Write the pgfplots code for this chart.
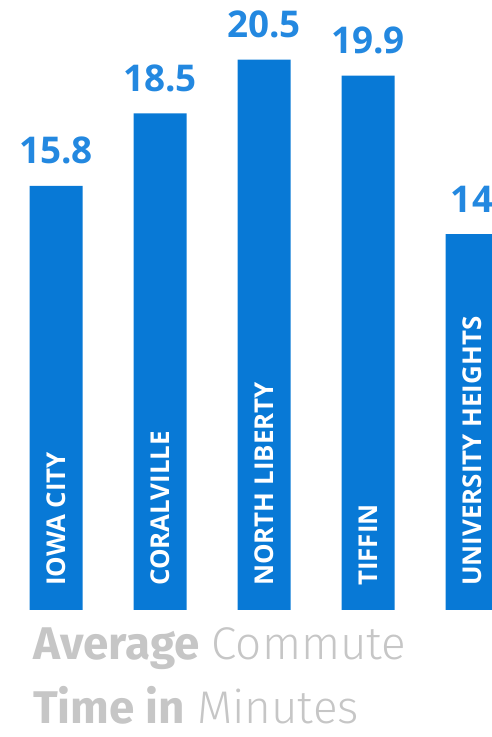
\documentclass[border=0pt]{standalone}
\usepackage{fontspec}
\usepackage{pgfplots}
\pgfplotsset{compat=1.18}
\setmainfont{Open Sans}
\newfontfamily\titlefont{Fira Sans}
\newfontfamily\titlelight{Fira Sans Light}
\definecolor{barblue}{HTML}{0879D6}
\definecolor{valblue}{HTML}{2388E0}
\definecolor{titlegrey}{HTML}{C6C6C6}
\begin{document}
\begin{tikzpicture}
\useasboundingbox (0,0) rectangle (492bp,737bp);
\begin{axis}[
  scale only axis,
  width=492bp, height=610bp,
  at={(0,127bp)}, anchor=south west,
  xmin=-0.5385, xmax=4.1923,
  ymin=0, ymax=22.72,
  axis on top,
  axis line style={draw=none},
  tick style={draw=none},
  ytick=\empty,
  xtick={0,1,2,3,4},
  xticklabels={IOWA CITY, CORALVILLE, NORTH LIBERTY, TIFFIN, UNIVERSITY HEIGHTS},
  xticklabel style={rotate=90, anchor=west, text=white, font=\bfseries\fontsize{26}{30}\selectfont, inner sep=0pt},
  xticklabel shift=-24bp,
  clip=false,
]
\addplot[ybar, bar width=53bp, fill=barblue, draw=none,
  nodes near coords,
  nodes near coords style={anchor=base, yshift=22bp, inner sep=0pt, text=valblue, font=\bfseries\fontsize{37}{40}\selectfont,
    /pgf/number format/fixed, /pgf/number format/precision=1, /pgf/number format/assume math mode=true},
] coordinates {(0,15.8) (1,18.5) (2,20.5) (3,19.9) (4,14.0)};
\end{axis}
\node[anchor=base west, inner sep=0pt, text=titlegrey, font=\fontsize{46}{50}\selectfont] at (33bp,77bp) {{\titlefont\bfseries Average} {\titlelight Commute}};
\node[anchor=base west, inner sep=0pt, text=titlegrey, font=\fontsize{46}{50}\selectfont] at (33bp,14bp) {{\titlefont\bfseries Time in} {\titlelight Minutes}};
\end{tikzpicture}
\end{document}
